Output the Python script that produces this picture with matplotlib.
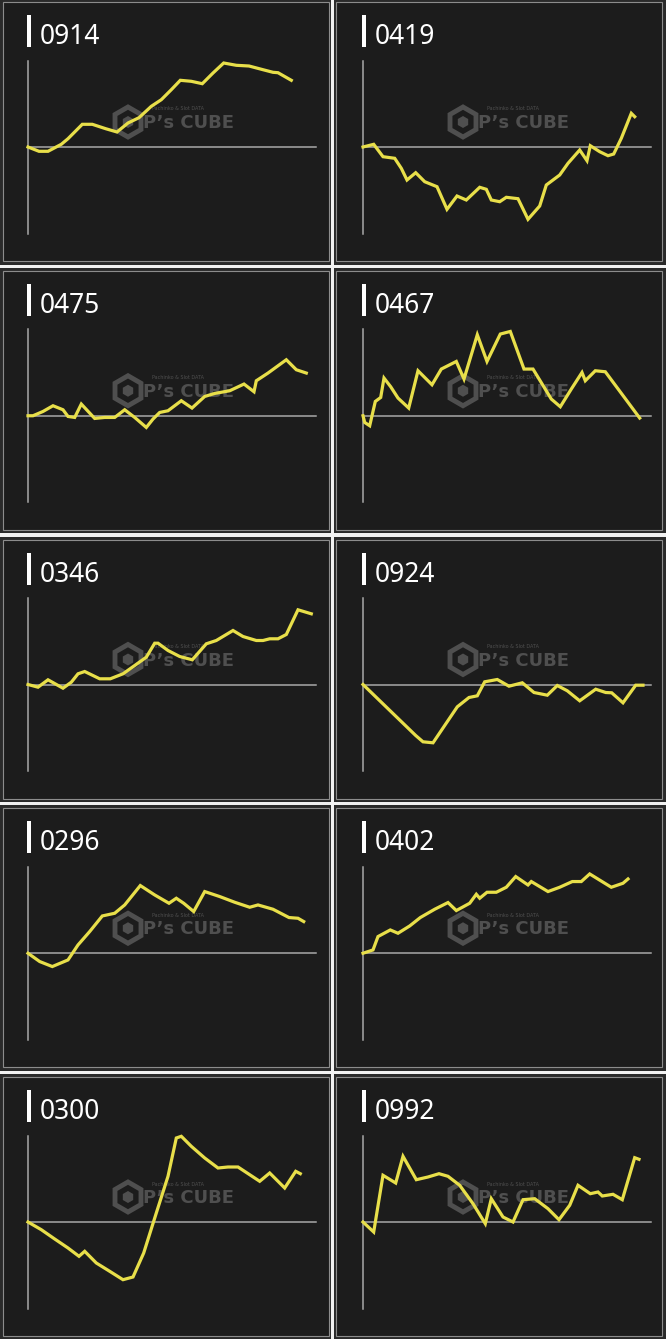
import matplotlib
matplotlib.use('Agg')
import matplotlib.pyplot as plt
from matplotlib.patches import Rectangle, RegularPolygon
from matplotlib.transforms import IdentityTransform

# Machine numbers, row by row (left, right)
machines = ['0914', '0419', '0475', '0467', '0346', '0924', '0296', '0402', '0300', '0992']

# Slump graphs (x = progress, y = balance, zero line = 0)
x_0914 = [0, 11, 20, 33.3, 40, 54.3, 64.3, 77.7, 89, 100, 111, 123.3, 133.3, 143.3, 152.3,
          163.3, 174.3, 185, 195.7, 208.3, 221, 235, 245, 250, 263.3]
y_0914 = [0, -4.3, -4.3, 2.7, 8.3, 22.7, 22.7, 18.3, 15, 24, 29.3, 40.7, 47.3, 57.3, 66.7,
          65.7, 63.3, 74, 84, 81.7, 81, 77.3, 74.7, 74.3, 66.7]

x_0419 = [0, 10.7, 20, 31.7, 38.3, 44, 52.7, 61.7, 74, 84, 94, 103.3, 116.7, 123.3, 128.3,
          136.7, 143.3, 155, 165, 176.7, 183.3, 196.7, 205, 216.7, 224, 227.3, 236.7, 245,
          250.7, 258.3, 268.3, 271.7]
y_0419 = [0, 2.7, -9.7, -11.3, -21.3, -33, -25.7, -34.7, -39.7, -62.3, -49, -53, -40.3, -42.3,
          -53, -54.7, -50.3, -51.7, -72.3, -59, -38, -28, -16.3, -3, -13.7, 1.3, -4.7, -8.7,
          -7, 8.7, 33.7, 30.3]

x_0475 = [0, 5, 15, 25, 35, 40, 46.7, 53.3, 66.7, 76.7, 86.7, 96.7, 106.7, 118.3, 125, 131.7,
          140, 153.3, 164, 176.7, 186.7, 201.7, 216, 226, 228.3, 240, 258.3, 268.3, 278.3]
y_0475 = [0, 0, 4.3, 10, 6, -0.7, -1.7, 11.7, -2.7, -1.7, -1.7, 6, -1.7, -11.7, -3.3, 3.3,
          5, 15, 7.7, 19.3, 22.3, 25, 31.7, 24, 35, 42.7, 56, 46, 42.7]

x_0467 = [0, 1.7, 6.7, 12.3, 17.7, 21, 27.7, 35, 45.7, 55, 69, 78.3, 93.3, 101, 114.3, 124,
          137.3, 147.3, 161, 170, 188.3, 197.3, 208.3, 219, 222.3, 232.3, 242.3, 276.7]
y_0467 = [0, -6.7, -10, 14.3, 18.3, 37.7, 29, 17.7, 7.7, 45, 31, 46.7, 54.3, 36.7, 81, 54.3,
          81.7, 84.3, 46.7, 46.7, 16.7, 9, 26.7, 43.3, 35, 45, 44, -2.3]

x_0346 = [0, 10, 20, 35, 43.3, 50, 56.7, 71.7, 82.3, 95, 106.7, 118.3, 126.7, 130, 140, 151.7,
          164.3, 178.3, 188.3, 205, 215, 228.3, 235, 241.7, 250, 258.3, 270, 283.3]
y_0346 = [0, -2.7, 4.7, -3.7, 2.3, 10.7, 13, 5.7, 5.7, 10.7, 19, 27.3, 41.3, 41.3, 34, 28,
          24.7, 40.7, 44, 54, 48, 44, 44, 45.7, 45.7, 50, 74.7, 70.7]

x_0924 = [0, 52.7, 60, 70, 94.3, 106, 114.3, 121.7, 134.3, 146, 159.3, 171, 184.3, 194.3,
          204.3, 216.7, 232.7, 242.7, 248.7, 260, 272.7, 280]
y_0924 = [0, -51, -57.3, -58.3, -22.3, -13, -11.3, 2.7, 5, -1.7, 1.7, -8, -10.7, -1, -6.3,
          -16.3, -4.7, -8, -8.3, -18.3, -0.7, -0.7]

x_0296 = [0, 11.7, 24.3, 40, 50, 61.7, 74.3, 86.7, 96.7, 112.3, 126.7, 141, 148.3, 155.7,
          165.7, 176.7, 191.7, 206.7, 221.7, 230, 245, 261, 270, 275.7]
y_0296 = [0, -8.3, -13.3, -6.7, 8.3, 21.7, 37.3, 40, 48.3, 67.7, 58.3, 50, 55, 50, 41.7,
          61.7, 56.7, 51, 46, 48.3, 44, 35.7, 35, 31.7]

x_0402 = [0, 10, 15, 27.3, 35, 46.7, 57.3, 71.7, 85, 93.3, 106.7, 113.3, 116.7, 124, 133.3,
          143.3, 152.7, 165, 168.3, 185, 196.7, 209.3, 218.3, 226.7, 248.3, 260, 265]
y_0402 = [0, 3.3, 16.7, 23.3, 20, 27.3, 35.7, 44, 50.7, 42.7, 50, 59, 55, 61, 61, 66, 76.7,
          68.3, 71.7, 61.7, 66, 71.7, 71.7, 79.3, 66, 70, 74.3]

x_0300 = [0, 13.3, 26.7, 40, 51, 56.7, 68.3, 81.7, 95, 105, 115.7, 128.3, 140, 148.3, 153.3,
          163.3, 176.7, 190, 200, 210, 221.7, 231.7, 241.7, 256.7, 267.7, 272.3]
y_0300 = [0, -7.7, -17, -26, -34.3, -29.3, -41, -49.3, -57.7, -55, -31, 9, 45.7, 84, 85.7,
          75.7, 64, 54, 55, 55, 47.3, 40.7, 49, 34, 50.7, 48.3]

x_0992 = [0, 10.7, 20, 32.7, 40, 53.3, 65, 76, 85, 96.7, 110, 122.3, 128.3, 140, 150, 160,
          171.7, 185, 196, 206.7, 215, 227.3, 235, 239.3, 250, 259.3, 271.7, 276]
y_0992 = [0, -10, 46.7, 39, 65.7, 42.3, 45, 48.3, 45.7, 36.7, 18.3, -1.7, 23.3, 5, 0, 22.3,
          23.3, 13.3, 2.3, 16.7, 36.7, 28.3, 30, 26, 27.7, 22.3, 64.3, 62.7]

series = {
    '0914': (x_0914, y_0914), '0419': (x_0419, y_0419),
    '0475': (x_0475, y_0475), '0467': (x_0467, y_0467),
    '0346': (x_0346, y_0346), '0924': (x_0924, y_0924),
    '0296': (x_0296, y_0296), '0402': (x_0402, y_0402),
    '0300': (x_0300, y_0300), '0992': (x_0992, y_0992),
}

# Figure geometry in pixels
W, H = 666, 1339
row_pitch = 268.75
half = 86.5          # half height of the y axis
plot_w = 288

bg = '#2a2a2a'
panel_bg = '#1c1c1c'
axis_gray = '#a8a8a8'
yellow = '#e8df4a'
mark_gray = '#4f4f4f'


def fx(px):
    return px / W


def fy(py):
    return 1 - py / H


fig = plt.figure(figsize=(W / 100, H / 100), dpi=100, facecolor=bg)

# white gaps between the cells
fig.add_artist(Rectangle((fx(331), 0), 3 / W, 1, transform=fig.transFigure,
                         facecolor='#f2f2f2', edgecolor='none', zorder=0))

for i, name in enumerate(machines):
    r, c = divmod(i, 2)
    zero = 147 + r * row_pitch
    ax_x = 28 + c * 335
    cell_x = 3 + c * 333

    if r > 0:
        fig.add_artist(Rectangle((0, fy(zero - 148)), 1, 3 / H, transform=fig.transFigure,
                                 facecolor='#f2f2f2', edgecolor='none', zorder=0))

    # dark cell with thin grey frame
    fig.add_artist(Rectangle((fx(cell_x), fy(zero - 145 + 259)), 326 / W, 259 / H,
                             transform=fig.transFigure, facecolor=panel_bg,
                             edgecolor='#8c8c8c', lw=0.8, zorder=1))

    # title marker + machine number
    fig.add_artist(Rectangle((fx(ax_x - 1), fy(zero - 100)), 3.5 / W, 32 / H,
                             transform=fig.transFigure, facecolor='white',
                             edgecolor='none', zorder=2))
    fig.text(fx(ax_x + 12), fy(zero - 110), name, color='white', fontsize=19,
             family='Noto Sans', ha='left', va='center', zorder=3)

    # watermark
    fig.add_artist(RegularPolygon((ax_x + 100, H - (zero - 25)), numVertices=6, radius=15,
                                  transform=IdentityTransform(), facecolor='none',
                                  edgecolor=mark_gray, lw=3.5, zorder=2))
    fig.add_artist(RegularPolygon((ax_x + 100, H - (zero - 25)), numVertices=6, radius=6,
                                  transform=IdentityTransform(), facecolor=mark_gray,
                                  edgecolor='none', zorder=2))
    fig.text(fx(ax_x + 160), fy(zero - 24), 'P\u2019s CUBE', color=mark_gray,
             fontsize=13, fontweight='bold', family='DejaVu Sans',
             ha='center', va='center', zorder=2)
    fig.text(fx(ax_x + 150), fy(zero - 38), 'Pachinko & Slot DATA', color=mark_gray,
             fontsize=3.5, family='DejaVu Sans', ha='center', va='center', zorder=2)

    ax = fig.add_axes([fx(ax_x), fy(zero + half), plot_w / W, 2 * half / H])
    ax.set_zorder(4)
    ax.axis('off')
    ax.set_xlim(0, plot_w)
    ax.set_ylim(-half, half)
    ax.axvline(0, color=axis_gray, lw=1.1, clip_on=False)
    ax.axhline(0, color=axis_gray, lw=1.1, clip_on=False)
    xs, ys = series[name]
    ax.plot(xs, ys, color=yellow, lw=2.3, solid_joinstyle='miter', clip_on=False)

fig.savefig('out.png', dpi=100, facecolor=bg)
